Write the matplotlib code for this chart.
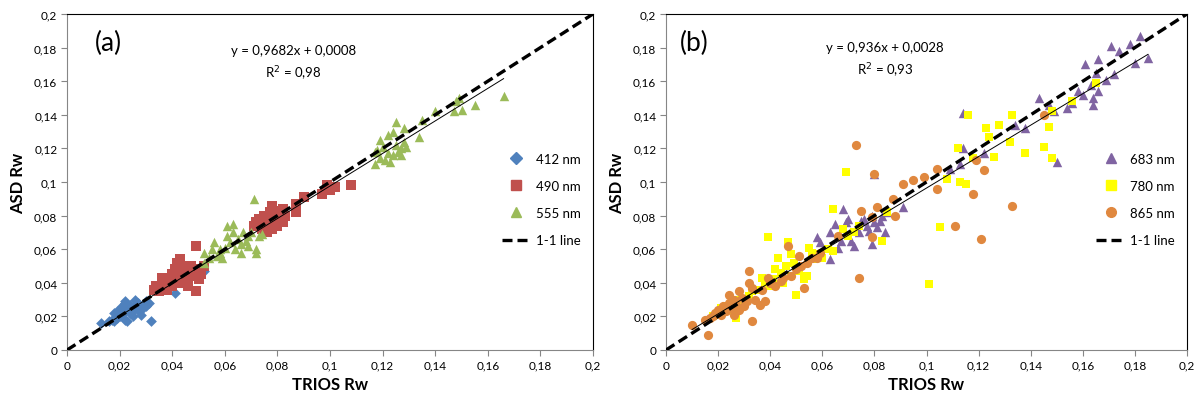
import matplotlib
matplotlib.use("Agg")
import matplotlib.pyplot as plt
import numpy as np
from matplotlib.lines import Line2D
from matplotlib.ticker import FuncFormatter

plt.rcParams['font.family'] = ['Lato', 'DejaVu Sans']

# ---- panel (a) ----
x412 = [0.013, 0.016, 0.017, 0.018, 0.018, 0.019, 0.019, 0.020, 0.020, 0.021, 0.021, 0.022, 0.022,
        0.022, 0.023, 0.023, 0.024, 0.024, 0.025, 0.025, 0.026, 0.026, 0.027, 0.027, 0.028, 0.029,
        0.029, 0.030, 0.030, 0.031, 0.032, 0.041, 0.052]
y412 = [0.016, 0.017, 0.018, 0.022, 0.017, 0.019, 0.023, 0.020, 0.024, 0.021, 0.026, 0.028, 0.029,
        0.018, 0.025, 0.017, 0.022, 0.027, 0.023, 0.020, 0.030, 0.026, 0.028, 0.024, 0.021, 0.025,
        0.027, 0.026, 0.029, 0.028, 0.017, 0.034, 0.047]

x490 = [0.033, 0.034, 0.035, 0.036, 0.036, 0.037, 0.038, 0.038, 0.039, 0.040, 0.040, 0.041, 0.041,
        0.042, 0.042, 0.043, 0.043, 0.044, 0.044, 0.045, 0.045, 0.046, 0.046, 0.047, 0.047, 0.048,
        0.048, 0.049, 0.049, 0.050, 0.050, 0.051, 0.052,
        0.071, 0.072, 0.073, 0.074, 0.075, 0.076, 0.076, 0.077, 0.077, 0.078, 0.078, 0.079, 0.079,
        0.080, 0.080, 0.081, 0.082, 0.082, 0.083,
        0.087, 0.087, 0.090, 0.097, 0.099, 0.100, 0.102, 0.108]
y490 = [0.036, 0.038, 0.035, 0.043, 0.037, 0.039, 0.036, 0.042, 0.040, 0.038, 0.045, 0.042, 0.048,
        0.052, 0.044, 0.054, 0.040, 0.046, 0.050, 0.042, 0.048, 0.044, 0.038, 0.050, 0.046, 0.044,
        0.048, 0.062, 0.035, 0.042, 0.048, 0.045, 0.050,
        0.074, 0.076, 0.078, 0.072, 0.080, 0.074, 0.070, 0.082, 0.076, 0.086, 0.072, 0.078, 0.083,
        0.074, 0.080, 0.077, 0.084, 0.076, 0.080,
        0.082, 0.087, 0.091, 0.093, 0.098, 0.095, 0.097, 0.098]

x555 = [0.052, 0.052, 0.054, 0.055, 0.056, 0.057, 0.058, 0.058, 0.059, 0.060, 0.061, 0.061, 0.062,
        0.063, 0.063, 0.064, 0.065, 0.066, 0.066, 0.067, 0.068, 0.069, 0.069, 0.070, 0.071, 0.072,
        0.072, 0.073, 0.074,
        0.117, 0.117, 0.118, 0.119, 0.119, 0.120, 0.121, 0.122, 0.122, 0.123, 0.124, 0.124, 0.125,
        0.125, 0.126, 0.127, 0.127, 0.128, 0.128, 0.129, 0.134, 0.135,
        0.140, 0.147, 0.148, 0.149, 0.150, 0.155, 0.166]
y555 = [0.052, 0.058, 0.055, 0.060, 0.064, 0.056, 0.058, 0.060, 0.055, 0.061, 0.074, 0.068, 0.064,
        0.075, 0.070, 0.060, 0.066, 0.058, 0.063, 0.070, 0.065, 0.062, 0.068, 0.070, 0.090, 0.058,
        0.060, 0.068, 0.069,
        0.111, 0.118, 0.119, 0.125, 0.114, 0.121, 0.113, 0.128, 0.117, 0.112, 0.130, 0.116, 0.136,
        0.122, 0.118, 0.120, 0.116, 0.132, 0.124, 0.121, 0.127, 0.137,
        0.142, 0.142, 0.148, 0.150, 0.143, 0.146, 0.151]

# ---- panel (b) ----
x683 = [0.063, 0.058, 0.059, 0.063, 0.065, 0.066, 0.067, 0.068, 0.069, 0.070, 0.071, 0.072, 0.073,
        0.074, 0.075, 0.076, 0.077, 0.078, 0.079, 0.079, 0.080, 0.081, 0.082, 0.083, 0.084, 0.085,
        0.091, 0.080,
        0.109, 0.113, 0.114, 0.114, 0.122, 0.134, 0.138, 0.143, 0.147, 0.149, 0.150, 0.154, 0.156,
        0.158, 0.160, 0.161, 0.163, 0.164, 0.164, 0.165, 0.166, 0.166, 0.169, 0.171, 0.172, 0.174,
        0.178, 0.180, 0.182, 0.185]
y683 = [0.054, 0.067, 0.064, 0.070, 0.075, 0.061, 0.065, 0.084, 0.076, 0.078, 0.065, 0.062, 0.072,
        0.070, 0.077, 0.078, 0.074, 0.071, 0.063, 0.080, 0.076, 0.073, 0.077, 0.080, 0.070, 0.082,
        0.085, 0.105,
        0.108, 0.111, 0.141, 0.120, 0.117, 0.134, 0.132, 0.150, 0.146, 0.142, 0.112, 0.144, 0.147,
        0.154, 0.152, 0.170, 0.158, 0.150, 0.146, 0.165, 0.173, 0.154, 0.161, 0.181, 0.164, 0.178,
        0.182, 0.171, 0.187, 0.174]

x780 = [0.018, 0.020, 0.021, 0.022, 0.023, 0.025, 0.026, 0.027, 0.028, 0.030, 0.032, 0.033, 0.035,
        0.037, 0.038, 0.039, 0.040, 0.041, 0.042, 0.043, 0.044, 0.045, 0.046, 0.047, 0.048, 0.048,
        0.049, 0.050, 0.051, 0.053, 0.054, 0.055, 0.056, 0.057, 0.059, 0.060, 0.062, 0.064, 0.064,
        0.068, 0.069, 0.070, 0.072, 0.074, 0.083, 0.085,
        0.101, 0.105, 0.108, 0.112, 0.113, 0.115, 0.116, 0.118, 0.123, 0.124, 0.126, 0.128, 0.132,
        0.133, 0.138, 0.145, 0.147, 0.148, 0.148, 0.156, 0.165]
y780 = [0.020, 0.022, 0.025, 0.023, 0.026, 0.024, 0.027, 0.019, 0.030, 0.028, 0.032, 0.035, 0.036,
        0.043, 0.040, 0.067, 0.038, 0.042, 0.048, 0.055, 0.046, 0.040, 0.050, 0.064, 0.057, 0.044,
        0.052, 0.033, 0.047, 0.042, 0.044, 0.061, 0.058, 0.054, 0.057, 0.055, 0.060, 0.059, 0.084,
        0.072, 0.106, 0.068, 0.070, 0.074, 0.065, 0.082,
        0.039, 0.073, 0.102, 0.120, 0.100, 0.099, 0.140, 0.114, 0.132, 0.127, 0.115, 0.134, 0.124,
        0.140, 0.117, 0.121, 0.133, 0.114, 0.142, 0.148, 0.159]

x865 = [0.010, 0.015, 0.016, 0.017, 0.018, 0.019, 0.020, 0.021, 0.022, 0.023, 0.024, 0.024, 0.025,
        0.026, 0.026, 0.027, 0.028, 0.028, 0.029, 0.030, 0.031, 0.032, 0.032, 0.033, 0.033, 0.034,
        0.036, 0.037, 0.038, 0.039, 0.040, 0.042, 0.044, 0.045, 0.047, 0.048, 0.050, 0.051, 0.052,
        0.053, 0.054, 0.056, 0.058, 0.059, 0.066, 0.073, 0.074, 0.075, 0.079, 0.079, 0.080, 0.081,
        0.087, 0.088, 0.091, 0.095, 0.099, 0.104, 0.104, 0.111, 0.118, 0.119, 0.121, 0.122, 0.133,
        0.145]
y865 = [0.015, 0.018, 0.009, 0.019, 0.020, 0.022, 0.024, 0.021, 0.026, 0.023, 0.033, 0.028, 0.025,
        0.030, 0.021, 0.027, 0.035, 0.024, 0.031, 0.026, 0.029, 0.047, 0.040, 0.017, 0.037, 0.030,
        0.027, 0.036, 0.029, 0.043, 0.040, 0.038, 0.041, 0.043, 0.062, 0.044, 0.048, 0.056, 0.050,
        0.037, 0.052, 0.055, 0.055, 0.058, 0.068, 0.122, 0.043, 0.083, 0.079, 0.067, 0.105, 0.085,
        0.090, 0.080, 0.099, 0.101, 0.103, 0.096, 0.108, 0.074, 0.093, 0.113, 0.066, 0.107, 0.086,
        0.140]

fit_a = (0.9682, 0.0008, 0.013, 0.166)
fit_b = (0.936, 0.0028, 0.010, 0.185)

def fmt(v, pos):
    if abs(v) < 1e-9:
        return '0'
    return ('%g' % round(v, 2)).replace('.', ',')

fig = plt.figure(figsize=(12.04, 4.02), dpi=100)
ax1 = fig.add_axes([67/1204, 1 - 351/402, 526/1204, 336/402])
ax2 = fig.add_axes([666/1204, 1 - 351/402, 521/1204, 336/402])

def setup(ax):
    ax.set_xlim(0, 0.2)
    ax.set_ylim(0, 0.2)
    ticks = np.arange(0, 0.201, 0.02)
    ax.set_xticks(ticks)
    ax.set_yticks(ticks)
    ax.xaxis.set_major_formatter(FuncFormatter(fmt))
    ax.yaxis.set_major_formatter(FuncFormatter(fmt))
    ax.tick_params(direction='out', length=4, width=0.8, color='#868686', labelsize=8.5, pad=3)
    for s in ['left', 'bottom']:
        ax.spines[s].set_color('#868686')
    for s in ['top', 'right']:
        ax.spines[s].set_color('black')
    ax.set_xlabel('TRIOS Rw', fontsize=12, fontweight='bold', labelpad=4)
    ax.set_ylabel('ASD Rw', fontsize=12, fontweight='bold', labelpad=6)
    ax.plot([0, 0.2], [0, 0.2], color='black', lw=2.4, ls=(0, (3, 1.5)), zorder=4)

def fitline(ax, f):
    a, b, x0, x1 = f
    xx = np.array([x0, x1])
    ax.plot(xx, a * xx + b, color='black', lw=0.7, zorder=5)

def legend(ax, handles, labels):
    ax.legend(handles, labels, loc='center right', bbox_to_anchor=(1.0, 0.448),
              frameon=False, fontsize=9.5, labelspacing=1.15,
              handlelength=2.2, handletextpad=0.4)

dash = dict(color='black', lw=2.4, ls=(0, (3, 1.5)))

# panel a
setup(ax1)
ax1.scatter(x412, y412, marker='D', s=30, color='#4F81BD', zorder=3, linewidths=0)
ax1.scatter(x490, y490, marker='s', s=48, color='#C0504D', zorder=3, linewidths=0)
ax1.scatter(x555, y555, marker='^', s=46, color='#9BBB59', zorder=3, linewidths=0)
fitline(ax1, fit_a)
ax1.text(0.0105, 0.183, '(a)', fontsize=19, va='center')
ax1.text(0.086, 0.1707, 'y = 0,9682x + 0,0008\nR$^2$ = 0,98', fontsize=9.5,
         ha='center', va='center', linespacing=1.6)
legend(ax1, [Line2D([], [], marker='D', ls='', color='#4F81BD', ms=6),
             Line2D([], [], marker='s', ls='', color='#C0504D', ms=7),
             Line2D([], [], marker='^', ls='', color='#9BBB59', ms=7),
             Line2D([], [], **dash)],
       ['412 nm', '490 nm', '555 nm', '1-1 line'])

# panel b
setup(ax2)
ax2.scatter(x683, y683, marker='^', s=46, color='#8064A2', zorder=3, linewidths=0)
ax2.scatter(x780, y780, marker='s', s=40, color='#FFFF00', zorder=3, linewidths=0)
ax2.scatter(x865, y865, marker='o', s=44, color='#E0883F', zorder=3, linewidths=0)
fitline(ax2, fit_b)
ax2.text(0.0054, 0.183, '(b)', fontsize=19, va='center')
ax2.text(0.084, 0.1725, 'y = 0,936x + 0,0028\nR$^2$ = 0,93', fontsize=9.5,
         ha='center', va='center', linespacing=1.6)
legend(ax2, [Line2D([], [], marker='^', ls='', color='#8064A2', ms=7),
             Line2D([], [], marker='s', ls='', color='#FFFF00', ms=7),
             Line2D([], [], marker='o', ls='', color='#E0883F', ms=7),
             Line2D([], [], **dash)],
       ['683 nm', '780 nm', '865 nm', '1-1 line'])

fig.savefig('out.png', dpi=100)
